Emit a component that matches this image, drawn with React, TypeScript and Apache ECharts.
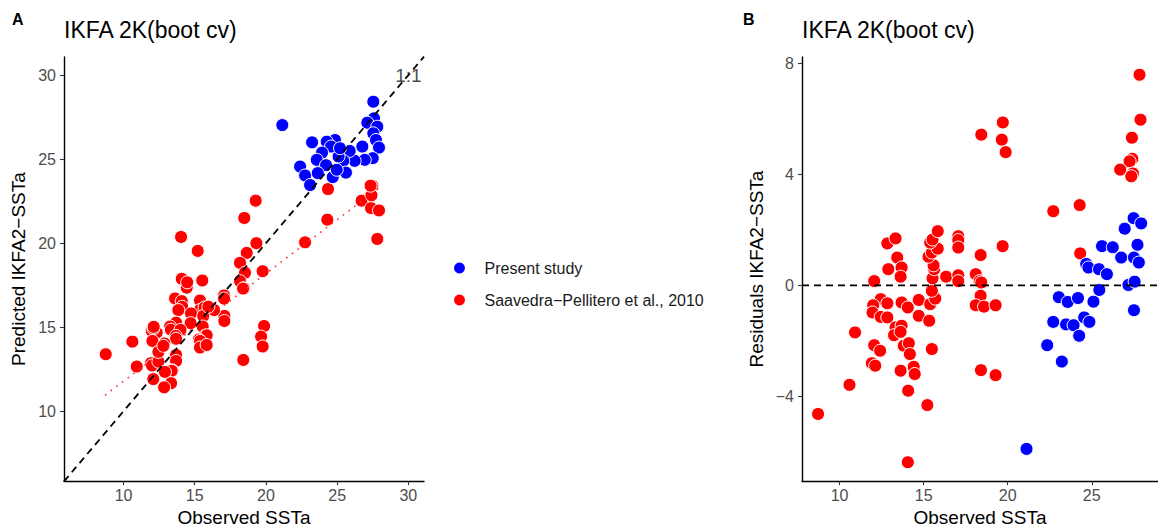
import React, { useEffect, useRef } from "react";
import * as echarts from "echarts";

const FONT = "'Liberation Sans', Arial, Helvetica, sans-serif";
const BLUE = "#0000ff";
const RED = "#ff0000";

const seriesNames = ["Present study", "Saavedra\u2212Pellitero et al., 2010"];

// Panel A: [observed SSTa, predicted IKFA2-SSTa]
const presentA: number[][] = [
  [21.15, 27.03], [27.54, 28.42], [27.59, 27.43], [27.12, 27.17], [27.82, 26.93],
  [27.54, 26.54], [27.73, 26.14], [27.94, 25.69], [27.5, 25.06], [26.77, 25.75],
  [26.94, 24.96], [26.23, 24.9], [25.88, 25.49], [25.43, 24.9], [25.62, 24.2],
  [25.1, 25.16], [24.85, 26.14], [24.27, 26.04], [24.57, 25.75], [23.94, 25.39],
  [23.24, 26.0], [23.57, 24.96], [24.22, 24.64], [22.4, 24.56], [22.75, 24.03],
  [23.64, 24.17], [24.69, 23.93], [23.1, 23.46], [24.97, 24.37], [25.2, 25.65],
];

const saavedraA: number[][] = [
  [24.36, 23.22], [27.47, 23.42], [27.31, 22.78], [26.72, 22.53], [27.38, 22.09],
  [27.94, 21.95], [24.31, 21.4], [22.75, 20.05], [27.82, 20.25], [27.41, 22.85], [27.35, 23.42],
  [19.28, 22.53], [18.48, 21.5], [14.04, 20.37], [19.33, 20.0], [15.21, 19.54],
  [18.65, 19.42], [18.18, 18.83], [18.53, 18.24], [19.77, 18.33], [18.18, 17.74],
  [18.46, 17.31], [18.39, 17.3], [17.06, 16.89], [17.06, 16.7], [17.08, 15.67], [17.08, 15.37],
  [16.36, 16.02], [15.53, 17.78], [14.09, 17.88], [14.44, 17.35], [14.47, 17.67],
  [13.62, 16.71], [14.09, 16.55], [14.12, 16.21], [13.85, 16.02], [15.37, 16.59],
  [15.37, 16.02], [15.69, 16.17], [14.74, 15.82], [15.6, 15.67], [15.56, 15.04],
  [15.72, 14.48], [15.84, 14.52], [15.29, 14.26], [15.37, 14.18], [15.37, 13.79],
  [15.84, 13.94], [15.96, 16.22], [14.71, 15.24], [13.69, 15.27], [13.27, 15.04],
  [13.33, 14.85], [14.0, 14.84], [13.67, 14.48], [13.69, 14.31], [12.87, 14.03],
  [11.98, 14.78], [12.33, 14.68], [12.09, 14.93], [12.12, 15.02], [12.03, 14.18],
  [10.62, 14.14], [8.75, 13.39], [10.93, 12.66], [11.93, 12.86], [12.0, 12.72],
  [12.45, 12.95], [12.45, 13.53], [12.8, 13.89], [13.69, 13.35], [13.69, 12.99],
  [13.43, 12.43], [13.38, 12.4], [12.91, 12.34], [12.09, 11.91], [13.34, 11.67],
  [12.85, 11.42], [19.87, 15.07], [19.66, 14.44], [19.77, 13.85], [18.41, 13.05],
];

// Panel B: [observed SSTa, residual IKFA2-SSTa]
const presentB: number[][] = [
  [21.12, -5.9], [22.35, -2.16], [23.22, -2.75], [22.71, -1.32], [23.47, -1.41],
  [23.92, -1.44], [24.25, -1.82], [24.55, -1.16], [24.86, -1.32], [23.04, -0.43],
  [23.57, -0.6], [24.18, -0.46], [25.1, -0.59], [25.45, -0.17], [24.67, 0.77],
  [24.8, 0.64], [25.43, 0.58], [25.9, 0.4], [25.61, 1.41], [26.25, 1.37],
  [26.75, 1.0], [27.18, 0.01], [27.55, 0.13], [27.51, -0.9], [27.51, 1.0],
  [27.8, 0.82], [27.72, 1.46], [26.96, 2.04], [27.49, 2.42], [27.94, 2.23],
];

const saavedraB: number[][] = [
  [8.72, -4.64], [10.59, -3.59], [10.92, -1.7], [12.06, 0.15], [12.84, 1.51],
  [13.33, 1.69], [13.43, 1.0], [12.9, 0.58], [13.69, 0.64], [13.63, 0.31],
  [12.45, -0.5], [12.84, -0.65], [12.0, -0.72], [11.96, -0.98], [12.45, -1.14],
  [12.84, -1.16], [13.69, -0.62], [14.06, -0.8], [14.71, -0.53], [14.71, -1.1],
  [13.33, -1.52], [13.69, -1.46], [13.24, -1.8], [13.63, -1.68], [13.82, -2.18],
  [14.12, -2.09], [14.18, -2.48], [12.06, -2.16], [12.41, -2.36], [11.92, -2.81],
  [12.12, -2.9], [13.63, -3.08], [14.41, -2.94], [14.47, -3.2], [14.08, -3.8],
  [15.22, -4.32], [14.06, -6.38], [15.49, -2.3], [15.33, -1.28], [15.39, -0.68],
  [15.69, -0.48], [15.49, -0.2], [15.53, 0.25], [15.63, 0.58], [15.59, 0.72],
  [15.29, 1.03], [15.49, 1.18], [15.84, 1.32], [15.39, 1.54], [15.53, 1.65],
  [15.84, 1.95], [16.34, 0.31], [17.06, 1.77], [17.06, 1.63], [17.06, 1.36],
  [17.06, 0.36], [17.06, 0.15], [18.1, 0.4], [18.33, 0.15], [18.43, 0.1],
  [18.39, 1.09], [18.39, -0.38], [18.1, -0.72], [18.59, -0.77], [19.28, -0.72],
  [19.7, 1.41], [18.41, -3.06], [19.28, -3.24], [19.71, 5.87], [19.65, 5.25],
  [19.88, 4.8], [22.71, 2.67], [24.28, 2.89], [24.31, 1.15], [27.84, 7.59],
  [27.9, 5.97], [27.39, 5.32], [27.41, 4.56], [27.25, 4.47], [26.69, 4.17],
  [27.45, 4.03], [27.35, 3.93], [18.43, 5.43],
];

// Reference lines
const oneToOne: number[][] = [[5.82, 5.82], [31.1, 31.1]];
const fitLine: number[][] = [[8.7, 10.95], [28.0, 23.32]];
const oneToOneLabelPos: number[][] = [[30, 30]];
const zeroLineB: number[][] = [[7.765, 0], [28.94, 0]];

// Axis ranges and ticks
const xRangeA = [5.82, 31.1];
const yRangeA = [5.84, 31.08];
const xRangeB = [7.765, 28.94];
const yRangeB = [-7.06, 8.23];
const xTicksA = [10, 15, 20, 25, 30];
const yTicksA = [10, 15, 20, 25, 30];
const xTicksB = [10, 15, 20, 25];
const yTicksB = [-4, 0, 4, 8];

function axis(range: number[], ticks: number[], gridIndex: number, name: string, isY: boolean) {
  return {
    type: "value",
    gridIndex,
    min: range[0],
    max: range[1],
    name,
    nameLocation: "middle",
    nameGap: isY ? 36 : 26,
    nameTextStyle: { color: "#000", fontSize: 19, fontFamily: FONT },
    splitLine: { show: false },
    axisLine: { show: true, onZero: false, lineStyle: { color: "#000", width: 1.4 } },
    axisTick: { show: true, length: 4, customValues: ticks, lineStyle: { color: "#333", width: 1.1 } },
    axisLabel: {
      customValues: ticks,
      color: "#4d4d4d",
      fontSize: 16,
      fontFamily: FONT,
      margin: isY ? 8 : 6,
      formatter: (v: number) => String(v).replace("-", "\u2212"),
    },
  };
}

const pointStyle = (color: string) => ({ color, opacity: 1, borderColor: "#ffffff", borderWidth: 1 });

export default function App() {
  const ref = useRef<HTMLDivElement>(null);
  useEffect(() => {
    if (!ref.current) return;
    const chart = echarts.init(ref.current, undefined, { renderer: "svg" });
    chart.setOption({
      animation: false,
      backgroundColor: "#ffffff",
      textStyle: { fontFamily: FONT },
      title: [
        { text: "A", left: 12, top: 11, padding: 0, textStyle: { fontSize: 16, fontWeight: "bold", color: "#000", fontFamily: FONT } },
        { text: "IKFA 2K(boot cv)", left: 64, top: 18, padding: 0, textStyle: { fontSize: 23, fontWeight: "normal", color: "#000", fontFamily: FONT } },
        { text: "B", left: 743, top: 11, padding: 0, textStyle: { fontSize: 16, fontWeight: "bold", color: "#000", fontFamily: FONT } },
        { text: "IKFA 2K(boot cv)", left: 802, top: 18, padding: 0, textStyle: { fontSize: 23, fontWeight: "normal", color: "#000", fontFamily: FONT } },
      ],
      legend: {
        data: seriesNames.map((n) => ({ name: n })),
        orient: "vertical",
        left: 447,
        top: 255,
        icon: "circle",
        itemWidth: 40,
        itemHeight: 13,
        itemGap: 16,
        selectedMode: false,
        textStyle: { fontSize: 16, color: "#1a1a1a", fontFamily: FONT },
      },
      grid: [
        { left: 64, top: 57, width: 360, height: 425, containLabel: false },
        { left: 802, top: 57, width: 360, height: 425, containLabel: false },
      ],
      xAxis: [
        axis(xRangeA, xTicksA, 0, "Observed SSTa", false),
        axis(xRangeB, xTicksB, 1, "Observed SSTa", false),
      ],
      yAxis: [
        axis(yRangeA, yTicksA, 0, "Predicted IKFA2\u2212SSTa", true),
        axis(yRangeB, yTicksB, 1, "Residuals IKFA2\u2212SSTa", true),
      ],
      series: [
        {
          name: seriesNames[1], type: "scatter", xAxisIndex: 0, yAxisIndex: 0,
          data: saavedraA, symbolSize: 13, itemStyle: pointStyle(RED), z: 2,
        },
        {
          name: seriesNames[0], type: "scatter", xAxisIndex: 0, yAxisIndex: 0,
          data: presentA, symbolSize: 13, itemStyle: pointStyle(BLUE), z: 2,
        },
        {
          name: "fit", type: "line", xAxisIndex: 0, yAxisIndex: 0, data: fitLine,
          symbol: "none", z: 3, silent: true,
          lineStyle: { color: "#ff3030", width: 1.6, type: [1.6, 5.5] },
        },
        {
          name: "1:1 line", type: "line", xAxisIndex: 0, yAxisIndex: 0, data: oneToOne,
          symbol: "none", z: 4, silent: true,
          lineStyle: { color: "#000", width: 1.8, type: [7, 5] },
        },
        {
          name: "1:1 label", type: "scatter", xAxisIndex: 0, yAxisIndex: 0, data: oneToOneLabelPos,
          symbolSize: 2, itemStyle: { color: "rgba(0,0,0,0)" }, z: 5, silent: true,
          label: { show: true, position: "inside", formatter: "1:1", fontSize: 19, color: "#1a1a1a", fontFamily: FONT },
        },
        {
          name: seriesNames[1], type: "scatter", xAxisIndex: 1, yAxisIndex: 1,
          data: saavedraB, symbolSize: 13, itemStyle: pointStyle(RED), z: 2,
        },
        {
          name: seriesNames[0], type: "scatter", xAxisIndex: 1, yAxisIndex: 1,
          data: presentB, symbolSize: 13, itemStyle: pointStyle(BLUE), z: 2,
        },
        {
          name: "zero", type: "line", xAxisIndex: 1, yAxisIndex: 1, data: zeroLineB,
          symbol: "none", z: 4, silent: true,
          lineStyle: { color: "#000", width: 1.8, type: [7, 5] },
        },
      ],
    });
    return () => chart.dispose();
  }, []);
  return (
    <div
      ref={ref}
      style={{ position: "fixed", left: 0, top: 0, width: 1158, height: 532, background: "#fff" }}
    />
  );
}
